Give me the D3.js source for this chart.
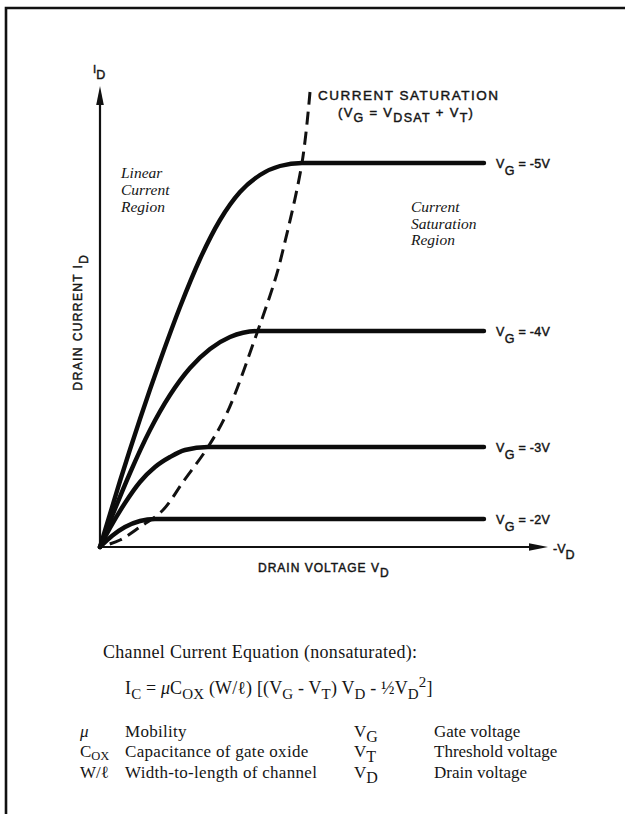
<!DOCTYPE html>
<html>
<head>
<meta charset="utf-8">
<script src="https://cdn.jsdelivr.net/npm/d3@7"></script>
<style>
  html, body { margin: 0; padding: 0; background: #fff; }
  svg { display: block; }
  text { white-space: pre; }
  .sans { font-family: "Liberation Sans", Arial, Helvetica, sans-serif; font-weight: normal; fill: #151515; stroke: #151515; stroke-width: 0.45px; }
  .serif { font-family: "Liberation Serif", "Times New Roman", Times, serif; fill: #151515; }
  .ital { font-style: italic; }
</style>
</head>
<body>
<script>
// MOSFET output characteristics: drain current vs drain voltage for four gate voltages.
// Drain voltage is the magnitude |V_D| (volts), drain current in relative units.

const gateVoltages = [-5, -4, -3, -2];

// [|V_D|, I_D] points along each characteristic (rising part, knee, saturated plateau)
const curveVG5 = [[0, 0], [0.4, 0.66], [0.8, 1.28], [1.2, 1.86], [1.6, 2.4], [2.0, 2.88], [2.4, 3.27],
                  [2.8, 3.55], [3.2, 3.72], [3.6, 3.81], [4.04, 3.84], [7.68, 3.84]];
const curveVG4 = [[0, 0], [0.3, 0.38], [0.6, 0.74], [1.0, 1.17], [1.4, 1.52], [1.8, 1.79], [2.2, 1.98],
                  [2.6, 2.1], [3.16, 2.16], [7.68, 2.16]];
const curveVG3 = [[0, 0], [0.2, 0.19], [0.5, 0.44], [0.8, 0.65], [1.1, 0.8], [1.4, 0.9], [1.7, 0.97],
                  [2.16, 1.0], [7.68, 1.0]];
const curveVG2 = [[0, 0], [0.25, 0.115], [0.5, 0.2], [0.8, 0.26], [1.1, 0.28], [7.68, 0.28]];

// Locus of the saturation onset (V_G = V_DSAT + V_T)
const saturationLocus = [[0, 0], [0.4, 0.07], [0.8, 0.2], [1.26, 0.37], [1.66, 0.65], [2.16, 1.0],
                         [2.54, 1.34], [3.14, 2.14], [3.5, 2.67], [3.66, 2.97], [4.04, 3.84], [4.2, 4.55]];

const curves = [curveVG5, curveVG4, curveVG3, curveVG2];
const curveLabels = ["V_G = -5V", "V_G = -4V", "V_G = -3V", "V_G = -2V"];

const vdExtent = [0, 8.96];
const idExtent = [0, 4.61];

const W = 625, H = 814;
const svg = d3.select("body").append("svg").attr("width", W).attr("height", H);

const x = d3.scaleLinear().domain(vdExtent).range([100, 548]);
const y = d3.scaleLinear().domain(idExtent).range([547, 86]);

// page frame (top and left rules)
svg.append("path")
  .attr("d", "M6,814 L6,8 L625,8")
  .attr("fill", "none").attr("stroke", "#111").attr("stroke-width", 2.6);

// helper: text with sub/superscripts, parts like "V" or ["G","sub"]
function rich(sel, px, py, parts, o) {
  const t = sel.append("text").attr("x", px).attr("y", py)
    .attr("class", o.cls).style("font-size", o.size + "px");
  if (o.anchor) t.attr("text-anchor", o.anchor);
  if (o.ls) t.style("letter-spacing", o.ls + "px");
  if (o.transform) t.attr("transform", o.transform);
  let cur = 0;
  parts.forEach(p => {
    const s = typeof p === "string" ? p : p[0];
    const kind = typeof p === "string" ? null : p[1];
    const off = kind === "sub" ? o.sub : kind === "sup" ? -o.sup : 0;
    const ts = t.append("tspan").text(s).attr("dy", off - cur);
    if (kind === "sub" || kind === "sup") ts.style("font-size", (o.subSize || o.size * 0.78) + "px");
    if (kind === "it") ts.style("font-style", "italic");
    cur = off;
  });
  return t;
}
function splitSub(label) {
  // "V_G = -5V" -> ["V", ["G","sub"], " = -5V"]
  const m = label.match(/^(\w)_(\w)(.*)$/);
  return [m[1], [m[2], "sub"], m[3]];
}

// axes
const ax = svg.append("g").attr("stroke", "#111").attr("fill", "#111");
ax.append("line").attr("x1", x(0)).attr("y1", y(0)).attr("x2", x(0)).attr("y2", y(idExtent[1]) + 10)
  .attr("stroke-width", 2.2);
ax.append("path").attr("stroke", "none")
  .attr("d", `M${x(0)},${y(idExtent[1])} L${x(0) - 3.8},${y(idExtent[1]) + 19} L${x(0) + 3.8},${y(idExtent[1]) + 19} Z`);
ax.append("line").attr("x1", x(0)).attr("y1", y(0)).attr("x2", x(vdExtent[1]) - 10).attr("y2", y(0))
  .attr("stroke-width", 2.2);
ax.append("path").attr("stroke", "none")
  .attr("d", `M${x(vdExtent[1])},${y(0)} L${x(vdExtent[1]) - 19},${y(0) - 3.8} L${x(vdExtent[1]) - 19},${y(0) + 3.8} Z`);

const line = d3.line().x(d => x(d[0])).y(d => y(d[1])).curve(d3.curveMonotoneX);

// saturation locus (dashed); the dash phase is set so the top end finishes on a whole dash
const dashOn = 13, dashOff = 7;
const locusPath = svg.append("path").datum(saturationLocus)
  .attr("d", d3.line().x(d => x(d[0])).y(d => y(d[1])).curve(d3.curveCatmullRom.alpha(0.5)))
  .attr("fill", "none").attr("stroke", "#111").attr("stroke-width", 3)
  .attr("stroke-dasharray", dashOn + "," + dashOff);
const locusLen = locusPath.node().getTotalLength();
const period = dashOn + dashOff;
locusPath.attr("stroke-dashoffset", ((dashOn - (locusLen % period)) % period + period) % period);

// characteristics
svg.append("g").selectAll("path").data(curves).join("path")
  .attr("d", line)
  .attr("fill", "none").attr("stroke", "#0c0c0c").attr("stroke-width", 4.4)
  .attr("stroke-linecap", "round").attr("stroke-linejoin", "round");

// curve labels at the right end of each plateau
curves.forEach((c, i) => {
  const last = c[c.length - 1];
  rich(svg, x(last[0]) + 12, y(last[1]) + 5, splitSub(curveLabels[i]),
       { cls: "sans", size: 12.5, sub: 7, subSize: 12.5, ls: 0.3 });
});

// axis titles
rich(svg, 93, 73, ["I", ["D", "sub"]], { cls: "sans", size: 11.5, sub: 6, subSize: 12.5 });
rich(svg, 0, 0, ["DRAIN CURRENT I", ["D", "sub"]],
     { cls: "sans", size: 12, sub: 6, subSize: 12, ls: 1.4, anchor: "middle", transform: "translate(82,322) rotate(-90)" });
rich(svg, 258, 572, ["DRAIN VOLTAGE V", ["D", "sub"]], { cls: "sans", size: 12, sub: 5, subSize: 12, ls: 1.0 });
rich(svg, 553, 553, ["-V", ["D", "sub"]], { cls: "sans", size: 12.5, sub: 6, subSize: 12.5 });

// saturation annotation
rich(svg, 318, 100, ["CURRENT SATURATION"], { cls: "sans", size: 13.5, ls: 1.5 });
rich(svg, 338, 117, ["(V", ["G", "sub"], " = V", ["DSAT", "sub"], " + V", ["T", "sub"], ")"],
     { cls: "sans", size: 13, sub: 5, subSize: 12.5, ls: 1.3 });

// region notes
const notes = svg.append("g").attr("class", "serif ital").style("font-size", "15.5px");
["Linear", "Current", "Region"].forEach((s, i) =>
  notes.append("text").attr("x", 121).attr("y", 178 + i * 17).text(s));
["Current", "Saturation", "Region"].forEach((s, i) =>
  notes.append("text").attr("x", 411).attr("y", 212 + i * 16.5).text(s));

// channel current equation
svg.append("text").attr("class", "serif").style("font-size", "18px").style("letter-spacing", "0.3px")
  .attr("x", 103).attr("y", 658).text("Channel Current Equation (nonsaturated):");
rich(svg, 125, 694,
     ["I", ["C", "sub"], " = ", ["\u03bc", "it"], "C", ["OX", "sub"], " (W/\u2113) [(V", ["G", "sub"], " - V", ["T", "sub"],
      ") V", ["D", "sub"], " - \u00bdV", ["D", "sub"], ["2", "sup"], "]"],
     { cls: "serif", size: 18, sub: 5, sup: 7, subSize: 15, ls: 0.15 });

// symbol legend
const symRows = [
  [[["\u03bc", "it"]], "Mobility", ["V", ["G", "sub"]], "Gate voltage"],
  [["C", ["OX", "sub"]], "Capacitance of gate oxide", ["V", ["T", "sub"]], "Threshold voltage"],
  [["W/\u2113"], "Width-to-length of channel", ["V", ["D", "sub"]], "Drain voltage"]
];
const rowBaselines = [737, 757, 778];
symRows.forEach((r, i) => {
  const by = rowBaselines[i];
  rich(svg, 80, by, r[0], { cls: "serif", size: 17, sub: 3, subSize: 12.5 });
  svg.append("text").attr("class", "serif").style("font-size", "17px").style("letter-spacing", "0.3px")
    .attr("x", 125).attr("y", by).text(r[1]);
  rich(svg, 354, by, r[2], { cls: "serif", size: 17, sub: 5, subSize: 16 });
  svg.append("text").attr("class", "serif").style("font-size", "17px")
    .attr("x", 434).attr("y", by).text(r[3]);
});
</script>
</body>
</html>
